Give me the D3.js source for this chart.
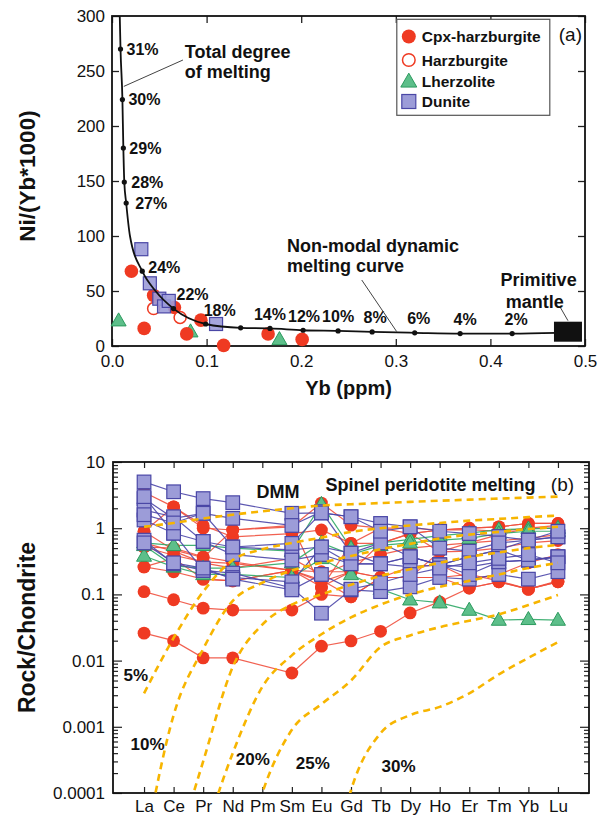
<!DOCTYPE html>
<html><head><meta charset="utf-8">
<script src="https://cdn.jsdelivr.net/npm/d3@7"></script>
<style>
body{margin:0;background:#fff}
text{font-family:"Liberation Sans",Arial,Helvetica,sans-serif;fill:#111}
</style>
</head><body>
<svg id="c" width="606" height="816"></svg>
<script>
// ---------------- Panel (a) data ----------------
const cpxHarzA = [[0.0205,68],[0.034,16],[0.044,46],[0.066,35],[0.079,11],[0.094,23.5],[0.118,0.6],[0.165,11],[0.201,6]];
const harzA    = [[0.044,34],[0.072,26]];
const lherzA   = [[0.007,23],[0.083,13],[0.177,6]];
const duniteA  = [[0.031,88],[0.040,57],[0.050,43],[0.055,36],[0.060,41],[0.110,20]];
const curveX   = [0.0082,0.009,0.011,0.012,0.013,0.015,0.019,0.032,0.046,0.065,0.099,0.136,0.167,0.202,0.239,0.275,0.32,0.368,0.423,0.47];
const curveY   = [300,270,224,180,149,130,100,68,50,34,20,16.5,16,14.3,13.7,12.8,12,11.3,11.3,12];
const meltX    = [0.009,0.011,0.012,0.013,0.015,0.032,0.065,0.099,0.136,0.167,0.202,0.239,0.275,0.32,0.368,0.423];
const meltY    = [270,224,180,149,130,68,34,20,16.5,16,14.3,13.7,12.8,12,11.3,11.3];
const meltLab  = ["31%","30%","29%","28%","27%","24%","22%","18%","","14%","12%","10%","8%","6%","4%","2%"];
const primMantle = [0.482,13];
const xTicksA = [0,0.1,0.2,0.3,0.4,0.5];
const yTicksA = [0,50,100,150,200,250,300];
const legendA = ["Cpx-harzburgite","Harzburgite","Lherzolite","Dunite"];

// ---------------- Panel (b) data ----------------
const ree = ["La","Ce","Pr","Nd","Pm","Sm","Eu","Gd","Tb","Dy","Ho","Er","Tm","Yb","Lu"];
const yTicksB = [10,1,0.1,0.01,0.001,0.0001];
const yTickLabB = ["10","1","0.1","0.01","0.001","0.0001"];
const cpxB = [
 [0.026,0.02,0.011,0.011,null,0.0065,0.0165,0.0198,0.0277,0.0525,0.077,0.125,0.155,0.12,0.16],
 [0.11,0.083,0.062,0.058,null,0.058,0.1,0.092,0.18,0.18,0.18,0.125,0.155,0.12,0.155],
 [0.26,0.22,0.17,0.16,null,0.23,0.13,0.22,0.18,0.18,0.44,0.45,0.5,0.6,0.65],
 [0.52,0.5,0.37,0.31,null,0.23,0.155,0.22,0.59,0.83,0.94,1.0,1.05,1.18,1.18],
 [0.89,2.1,1.0,0.94,null,1.05,2.4,1.11,1.0,0.83,0.94,1.0,1.05,1.18,1.18],
 [3.5,2.1,1.1,0.74,null,0.83,0.94,0.59,0.59,0.83,0.44,0.6,0.8,1.0,1.1],
 [0.52,0.39,0.31,0.295,null,0.23,0.22,0.22,0.18,0.18,0.18,0.2,0.16,0.12,0.155],
 [0.89,0.47,0.36,0.94,null,1.1,0.125,0.59,1.0,1.0,0.94,0.95,0.9,1.0,1.0],
 [0.26,0.35,0.17,0.16,null,0.23,0.165,0.092,0.18,0.26,0.28,0.17,0.2,0.3,0.4],
 [0.6,0.45,0.3,0.25,null,0.35,0.2,0.3,0.4,0.5,0.55,0.6,0.65,0.7,0.8]
];
const duniteB = [
 [5.0,3.55,2.8,2.43,null,1.68,1.7,1.49,1.18,1.05,0.9,0.83,0.75,0.66,0.74],
 [2.8,1.41,1.68,1.41,null,1.1,1.78,0.42,0.29,0.37,0.28,0.37,0.47,0.33,0.37],
 [1.88,1.49,0.63,0.52,null,0.47,0.52,0.29,0.29,0.26,0.28,0.26,0.31,0.33,0.37],
 [1.33,0.84,0.63,0.4,null,0.33,0.4,0.29,0.29,0.37,0.28,0.37,0.47,0.66,0.74],
 [0.66,0.29,0.23,0.21,null,0.125,0.052,0.117,0.11,0.13,0.18,0.17,0.2,0.17,0.22],
 [3.0,0.84,0.23,0.18,null,0.155,0.52,0.42,0.6,0.37,0.28,0.2,0.31,0.33,0.37],
 [1.6,1.2,1.68,0.52,null,0.59,1.7,1.49,0.9,1.05,0.5,0.45,0.6,0.66,0.9],
 [0.6,0.3,0.25,0.17,null,0.117,0.2,0.12,0.15,0.2,0.25,0.3,0.35,0.4,0.3]
];
const lherzB = [
 [0.38,0.26,0.2,0.2,null,0.18,0.35,0.2,0.12,0.083,0.075,0.058,0.041,0.042,0.041],
 [0.6,0.55,0.55,0.5,null,0.45,2.3,0.5,0.6,0.68,0.77,0.84,0.95,0.98,1.0],
 [0.55,0.27,0.25,0.25,null,0.3,0.6,0.4,0.55,0.6,0.66,0.7,0.83,0.9,0.9]
];
const meltCurveNames = ["DMM","5%","10%","15%","20%","25%","30%"];
const meltCurves = [
 [1.05,1.2,1.4,1.6,1.8,2.0,2.2,2.3,2.4,2.5,2.6,2.7,2.8,2.9,3.0],
 [0.0032,0.022,0.11,0.33,0.48,0.6,0.72,0.88,1.0,1.1,1.2,1.3,1.38,1.47,1.55],
 [0.000013,0.0015,0.015,0.08,0.15,0.23,0.3,0.38,0.48,0.58,0.7,0.8,0.88,0.97,1.05],
 [null,0.00001,0.0003,0.008,0.035,0.07,0.1,0.14,0.19,0.24,0.3,0.37,0.43,0.5,0.56],
 [null,null,0.00002,0.0004,0.004,0.012,0.025,0.045,0.07,0.1,0.13,0.16,0.2,0.25,0.3],
 [null,null,null,0.000002,0.0001,0.0009,0.0022,0.005,0.016,0.024,0.032,0.04,0.05,0.069,0.098],
 [null,null,null,null,null,null,0.000001,0.00011,0.0008,0.0015,0.002,0.0032,0.0062,0.011,0.019]
];
// annotation labels of panel (b): [category index position, value]
const pctLabB = ["5%","10%","20%","25%","30%"];
const pctPosB = [[-0.28,0.0059],[0.12,0.00054],[3.68,0.00032],[5.71,0.00028],[8.61,0.00025]];

// ---------------- styles ----------------
const RED="#ef3a22", BLUE_F="#9c9cd8", BLUE_S="#4a47a6", GREEN_F="#5dbf8a", GREEN_S="#2c9a5e", YEL="#f7b500";

const svg = d3.select("#c");

function triPath(s){ const h=s*0.87; return `M0,${-h*0.6}L${s/2},${h*0.4}L${-s/2},${h*0.4}Z`; }

// ================= PANEL A =================
const xA = d3.scaleLinear().domain([0,0.5]).range([112,585]);
const yA = d3.scaleLinear().domain([0,300]).range([346,16]);
const gA = svg.append("g");

const axL = gA.append("g").attr("transform",`translate(${xA(0)},0)`)
  .call(d3.axisLeft(yA).tickValues(yTicksA).tickSizeInner(-7).tickSizeOuter(0).tickPadding(7));
const axR = gA.append("g").attr("transform",`translate(${xA(0.5)},0)`)
  .call(d3.axisRight(yA).tickValues(yTicksA).tickSizeInner(-7).tickSizeOuter(0).tickFormat(""));
const axB = gA.append("g").attr("transform",`translate(0,${yA(0)})`)
  .call(d3.axisBottom(xA).tickValues(xTicksA).tickSizeInner(-7).tickSizeOuter(0).tickPadding(9).tickFormat(d3.format(".1f")));
const axT = gA.append("g").attr("transform",`translate(0,${yA(300)})`)
  .call(d3.axisTop(xA).tickValues(xTicksA).tickSizeInner(-7).tickSizeOuter(0).tickFormat(""));
[axL,axR,axB,axT].forEach(a=>{a.select(".domain").remove(); a.selectAll("line").attr("stroke","#222").attr("stroke-width",1.3); a.selectAll("text").style("font-size","17px").attr("fill","#222");});
gA.append("rect").attr("x",xA(0)).attr("y",yA(300)).attr("width",xA(0.5)-xA(0)).attr("height",yA(0)-yA(300))
  .attr("fill","none").attr("stroke","#111").attr("stroke-width",1.8);

// axis titles
gA.append("text").attr("transform",`translate(27,${yA(150)-5}) rotate(-90)`).attr("text-anchor","middle")
  .attr("dominant-baseline","central").style("font-size","22.5px").style("font-weight","bold").text("Ni/(Yb*1000)");
gA.append("text").attr("x",(xA(0)+xA(0.5))/2).attr("y",395).attr("text-anchor","middle")
  .style("font-size","20px").style("font-weight","bold").text("Yb (ppm)");

// markers
gA.selectAll(".lh").data(lherzA).join("path").attr("d",triPath(15))
  .attr("transform",d=>`translate(${xA(d[0])},${yA(d[1])})`).attr("fill",GREEN_F).attr("stroke",GREEN_S).attr("stroke-width",1);
gA.selectAll(".cpx").data(cpxHarzA).join("circle").attr("cx",d=>xA(d[0])).attr("cy",d=>yA(d[1])).attr("r",6.8).attr("fill",RED);
gA.selectAll(".hz").data(harzA).join("circle").attr("cx",d=>xA(d[0])).attr("cy",d=>yA(d[1])).attr("r",6).attr("fill","#fff").attr("stroke",RED).attr("stroke-width",1.5);
gA.selectAll(".dn").data(duniteA).join("rect").attr("x",d=>xA(d[0])-6.5).attr("y",d=>yA(d[1])-6.5).attr("width",13).attr("height",13)
  .attr("fill",BLUE_F).attr("stroke",BLUE_S).attr("stroke-width",1.2).attr("fill-opacity",0.9);

// curve
const curvePts = curveX.map((x,i)=>[x,curveY[i]]);
gA.append("path").datum(curvePts).attr("d",d3.line().x(d=>xA(d[0])).y(d=>yA(d[1])).curve(d3.curveMonotoneX))
  .attr("fill","none").attr("stroke","#111").attr("stroke-width",1.8);
gA.selectAll(".md").data(meltX).join("circle").attr("cx",d=>xA(d)).attr("cy",(d,i)=>yA(meltY[i])).attr("r",2.6).attr("fill","#111");

// melt labels placement (style): [anchor, dx, dy]
const place = [["start",6,0],["start",6,0],["start",6,0],["start",7,0],["start",9,0],["start",6,-4],["start",3,-14],["start",-2,-14],
 ["middle",0,0],["middle",0,-14],["middle",1,-14],["middle",0,-14],["middle",3,-14],["middle",4,-14],["middle",5,-14],["middle",4,-14]];
gA.selectAll(".ml").data(meltLab).join("text").attr("x",(d,i)=>xA(meltX[i])+place[i][1]).attr("y",(d,i)=>yA(meltY[i])+place[i][2])
  .attr("text-anchor",(d,i)=>place[i][0]).attr("dominant-baseline","central")
  .style("font-size","16px").style("font-weight","bold").text(d=>d);

// primitive mantle
gA.append("rect").attr("x",xA(primMantle[0])-14).attr("y",yA(primMantle[1])-10).attr("width",28).attr("height",20).attr("fill","#111");

// annotations
function ann(x1,y1,x2,y2){ gA.append("line").attr("x1",xA(x1)).attr("y1",yA(y1)).attr("x2",xA(x2)).attr("y2",yA(y2)).attr("stroke","#444").attr("stroke-width",1); }
ann(0.075,260,0.0125,236);
ann(0.264,60,0.301,13);
ann(0.474,35,0.482,23);
function atext(x,y,t,anchor){ gA.append("text").attr("x",xA(x)).attr("y",yA(y)).attr("text-anchor",anchor||"start").attr("dominant-baseline","central")
  .style("font-size","18px").style("font-weight","bold").text(t); }
atext(0.077,267.5,"Total degree");
atext(0.077,249.4,"of melting");
atext(0.185,91,"Non-modal dynamic");
atext(0.185,72.7,"melting curve");
atext(0.451,60,"Primitive","middle");
atext(0.447,40,"mantle","middle");

// legend
const lg = gA.append("g");
lg.append("rect").attr("x",xA(0.3)+1).attr("y",yA(297)).attr("width",153).attr("height",96).attr("fill","#fff").attr("stroke","#555").attr("stroke-width",1.2);
const lgY = [36.5,60,81.5,101.5];
const lgX = xA(0.3)+13;
legendA.forEach((t,i)=>{
  const cy = lgY[i];
  if(i===0) lg.append("circle").attr("cx",lgX).attr("cy",cy).attr("r",7).attr("fill",RED);
  if(i===1) lg.append("circle").attr("cx",lgX).attr("cy",cy).attr("r",6.3).attr("fill","#fff").attr("stroke",RED).attr("stroke-width",1.5);
  if(i===2) lg.append("path").attr("d",triPath(16)).attr("transform",`translate(${lgX},${cy})`).attr("fill",GREEN_F).attr("stroke",GREEN_S);
  if(i===3) lg.append("rect").attr("x",lgX-7).attr("y",cy-7).attr("width",14).attr("height",14).attr("fill",BLUE_F).attr("stroke",BLUE_S).attr("stroke-width",1.2);
  lg.append("text").attr("x",lgX+13).attr("y",cy).attr("dominant-baseline","central").style("font-size","15.5px").style("font-weight","bold").text(t);
});
gA.append("text").attr("x",xA(0.5)-3).attr("y",yA(283)).attr("text-anchor","end").attr("dominant-baseline","central").style("font-size","19px").text("(a)");

// ================= PANEL B =================
const xB = d3.scalePoint().domain(ree).range([113,589]).padding(1.05);
const xIdx = i => xB(ree[0]) + i*xB.step();
const yB = d3.scaleLog().domain([1e-4,10]).range([793,462]);
const gB = svg.append("g");
gB.append("clipPath").attr("id","clipB").append("rect").attr("x",113).attr("y",yB(10)).attr("width",476).attr("height",yB(1e-4)-yB(10));

const minors = [];
for(let k=-4;k<=0;k++) for(let m=2;m<=9;m++) minors.push(m*Math.pow(10,k));
const bL = gB.append("g").attr("transform",`translate(113,0)`)
  .call(d3.axisLeft(yB).tickValues(yTicksB).tickSizeInner(-9).tickSizeOuter(0).tickPadding(8).tickFormat((d,i)=>yTickLabB[i]));
const bLm = gB.append("g").attr("transform",`translate(113,0)`).call(d3.axisLeft(yB).tickValues(minors).tickSizeInner(-5).tickSizeOuter(0).tickFormat(""));
const bR = gB.append("g").attr("transform",`translate(589,0)`).call(d3.axisRight(yB).tickValues(yTicksB).tickSizeInner(-9).tickSizeOuter(0).tickFormat(""));
const bRm = gB.append("g").attr("transform",`translate(589,0)`).call(d3.axisRight(yB).tickValues(minors).tickSizeInner(-5).tickSizeOuter(0).tickFormat(""));
const bB = gB.append("g").attr("transform",`translate(0,${yB(1e-4)})`).call(d3.axisBottom(xB).tickSizeInner(-6).tickSizeOuter(0).tickPadding(7));
const bT = gB.append("g").attr("transform",`translate(0,${yB(10)})`).call(d3.axisTop(xB).tickSizeInner(-6).tickSizeOuter(0).tickFormat(""));
[bL,bLm,bR,bRm,bB,bT].forEach(a=>{a.select(".domain").remove(); a.selectAll("line").attr("stroke","#222").attr("stroke-width",1.2); a.selectAll("text").style("font-size","17px").attr("fill","#222");});
gB.append("rect").attr("x",113).attr("y",yB(10)).attr("width",476).attr("height",yB(1e-4)-yB(10)).attr("fill","none").attr("stroke","#111").attr("stroke-width",1.8);

gB.append("text").attr("transform",`translate(27,${(yB(10)+yB(1e-4))/2}) rotate(-90)`).attr("text-anchor","middle")
  .attr("dominant-baseline","central").style("font-size","23px").style("font-weight","bold").text("Rock/Chondrite");

const dataG = gB.append("g").attr("clip-path","url(#clipB)");
function pts(arr){ return arr.map((v,i)=>[ree[i],v]).filter(d=>d[1]!==null); }
const lineB = d3.line().x(d=>xB(d[0])).y(d=>yB(d[1]));

function drawSeries(list, color, width){
  list.forEach(s=>{ dataG.append("path").datum(pts(s)).attr("d",lineB).attr("fill","none").attr("stroke",color).attr("stroke-width",width).attr("stroke-opacity",0.9); });
}
drawSeries(cpxB,"#f0503e",1.2);
drawSeries(lherzB,"#2fa866",1.2);
drawSeries(duniteB,"#4b46a8",1.2);

cpxB.forEach(s=>{ dataG.selectAll(null).data(pts(s)).join("circle").attr("cx",d=>xB(d[0])).attr("cy",d=>yB(d[1])).attr("r",6.4).attr("fill",RED); });
lherzB.forEach(s=>{ dataG.selectAll(null).data(pts(s)).join("path").attr("d",triPath(15)).attr("transform",d=>`translate(${xB(d[0])},${yB(d[1])})`).attr("fill",GREEN_F).attr("stroke",GREEN_S); });
duniteB.forEach(s=>{ dataG.selectAll(null).data(pts(s)).join("rect").attr("x",d=>xB(d[0])-6.8).attr("y",d=>yB(d[1])-6.8).attr("width",13.6).attr("height",13.6)
  .attr("fill",BLUE_F).attr("stroke",BLUE_S).attr("stroke-width",1.2); });

// model melting curves (dashed)
const lineM = d3.line().x(d=>xB(d[0])).y(d=>yB(d[1])).curve(d3.curveMonotoneX);
meltCurves.forEach(c=>{ dataG.append("path").datum(pts(c)).attr("d",lineM).attr("fill","none").attr("stroke",YEL)
  .attr("stroke-width",2.6).attr("stroke-dasharray","7,5"); });

// annotations panel b
gB.append("text").attr("x",xIdx(4.53)).attr("y",yB(3.56)).attr("text-anchor","middle").attr("dominant-baseline","central")
  .style("font-size","18px").style("font-weight","bold").text("DMM");
gB.append("text").attr("x",xIdx(6.14)).attr("y",yB(4.5)).attr("dominant-baseline","central")
  .style("font-size","18px").style("font-weight","bold").text("Spinel peridotite melting");
gB.append("text").attr("x",xIdx(13.76)).attr("y",yB(4.5)).attr("dominant-baseline","central").style("font-size","19px").text("(b)");
gB.selectAll(".pl").data(pctLabB).join("text").attr("x",(d,i)=>xIdx(pctPosB[i][0])).attr("y",(d,i)=>yB(pctPosB[i][1]))
  .attr("text-anchor","middle").attr("dominant-baseline","central").style("font-size","17px").style("font-weight","bold").text(d=>d);
</script>
</body></html>
